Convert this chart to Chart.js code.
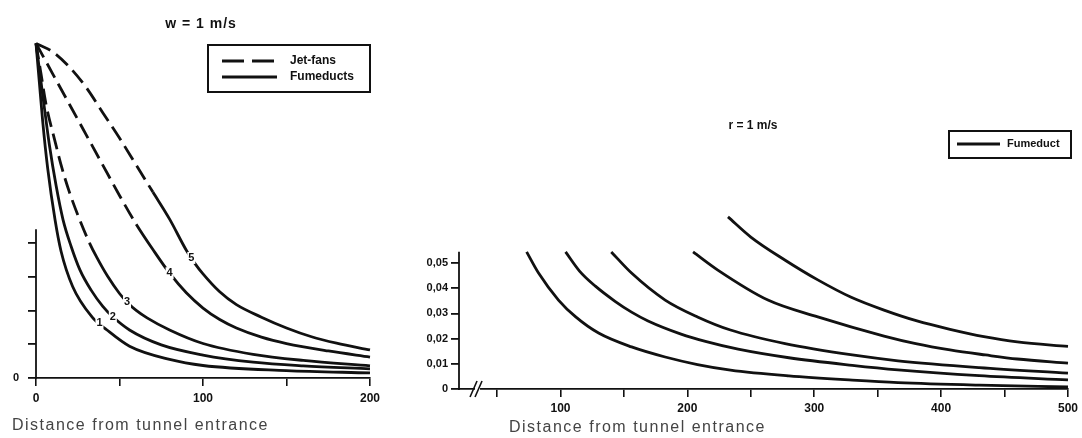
<!DOCTYPE html>
<html><head><meta charset="utf-8">
<script src="https://cdn.jsdelivr.net/npm/chart.js@4"></script>
<style>
html,body{margin:0;padding:0;background:#fff;width:1082px;height:438px;overflow:hidden;position:relative;}
#c1{position:absolute;left:0;top:0;}
#c2{position:absolute;left:400px;top:0;}
</style></head><body>
<canvas id="c1" width="400" height="438"></canvas>
<canvas id="c2" width="682" height="438"></canvas>
<script>
// ---------- data ----------
const leftTitle = 'w = 1 m/s';
const rightTitle = 'r = 1 m/s';
const axisTitle = 'Distance from tunnel entrance';
const leftLegendLabels = ['Jet-fans', 'Fumeducts'];
const rightLegendLabels = ['Fumeduct'];

const leftXTicks = [0, 50, 100, 150, 200];
const leftXLabels = [0, 100, 200];
const leftYTicks = [0, 1, 2, 3, 4];
const leftYLabels = [0];

const rightXTicks = [50, 100, 150, 200, 250, 300, 350, 400, 450, 500];
const rightXLabels = [100, 200, 300, 400, 500];
const rightYTicks = [0, 0.01, 0.02, 0.03, 0.04, 0.05];

// left panel curves [distance, value]
const curveA = [[0,9.9],[2,8.75],[4,7.6],[7,6.2],[11.4,4.68],[15,3.75],[22,2.7],[33.5,1.81],[42.5,1.42],[56,0.94],[80,0.55],[100,0.37],[150,0.22],[200,0.15]];
const curveB = [[0,9.9],[2.5,8.95],[5,8.0],[8,6.9],[12,5.7],[16.2,4.68],[21,3.9],[26.3,3.2],[33,2.6],[40,2.12],[46,1.81],[56,1.42],[75,0.98],[100,0.68],[130,0.47],[160,0.36],[200,0.27]];
const curveC = [[0,9.9],[3,9.0],[6,8.1],[11.4,7.0],[15.6,6.2],[20,5.5],[26,4.7],[32,4.0],[36.5,3.56],[43,3.0],[50,2.5],[55,2.22],[60,2.0],[66.5,1.78],[80,1.42],[100,1.02],[130,0.7],[160,0.52],[200,0.36]];
const curveD = [[0,9.9],[10,9.0],[20,8.1],[30,7.2],[40,6.3],[50,5.4],[60,4.55],[70,3.8],[80,3.1],[90,2.52],[100,2.07],[110,1.73],[120,1.48],[135,1.21],[150,1.02],[175,0.8],[200,0.62]];
const curveE = [[0,9.9],[10,9.65],[20,9.2],[30,8.6],[40,7.85],[50,7.1],[60,6.3],[70,5.5],[80,4.7],[90,3.78],[95,3.4],[100,3.08],[110,2.55],[120,2.17],[135,1.8],[150,1.48],[165,1.22],[180,1.03],[200,0.83]];
const leftCurveNames = ['1', '2', '3', '4', '5'];

// right panel curves [distance, value]
const curveR1 = [[73.3,0.0544],[82.7,0.046],[98.4,0.0353],[112,0.0286],[130,0.0222],[156,0.0167],[182.5,0.0127],[208,0.0097],[234,0.0075],[280,0.0052],[330,0.0035],[366,0.0025],[430,0.0015],[500,0.0008]];
const curveR2 = [[104,0.0544],[115,0.0468],[127.5,0.0408],[143,0.0348],[156,0.0305],[169,0.027],[195,0.0218],[215,0.0188],[240,0.0158],[280,0.0124],[330,0.0094],[366,0.0076],[430,0.0053],[500,0.0036]];
const curveR3 = [[140,0.0544],[156,0.046],[182.5,0.0353],[208,0.0286],[234,0.0234],[277,0.018],[330,0.0135],[366,0.0112],[430,0.0085],[500,0.0063]];
const curveR4 = [[204.5,0.0544],[224,0.0472],[263.5,0.0353],[302.8,0.0286],[355,0.021],[380,0.018],[407,0.0155],[435,0.0135],[460,0.0119],[500,0.0103]];
const curveR5 = [[232,0.0683],[250,0.0603],[276.8,0.0512],[302.8,0.0433],[328.7,0.0365],[355,0.0313],[381,0.027],[407,0.0237],[433.7,0.0208],[460,0.0187],[500,0.0169]];

// ---------- helpers ----------
Chart.defaults.font.family = '"Liberation Sans", Arial, sans-serif';
Chart.defaults.color = '#111';
const toXY = arr => arr.map(([x, y]) => ({x, y}));
const DASH = [16, 7];

function interp(arr, x) {
  for (let i = 1; i < arr.length; i++) {
    if (x <= arr[i][0]) {
      const [x0, y0] = arr[i-1], [x1, y1] = arr[i];
      return y0 + (y1 - y0) * (x - x0) / (x1 - x0);
    }
  }
  return arr[arr.length-1][1];
}

function lineDs(arr, dashAbove) {
  const ds = {
    data: toXY(arr), borderColor: '#111', borderWidth: 2.8, pointRadius: 0,
    cubicInterpolationMode: 'monotone', clip: 5, fill: false
  };
  if (dashAbove !== undefined) {
    ds.segment = { borderDash: ctx => (ctx.p1.parsed.y >= dashAbove ? DASH : undefined) };
  }
  return ds;
}

function baseScales(o) {
  return {
    x: {
      type: 'linear', min: o.xmin, max: o.xmax,
      afterBuildTicks: s => { s.ticks = o.xTicks.map(v => ({value: v})); },
      afterFit: s => { s.height = o.xh; },
      ticks: { autoSkip: false, maxRotation: 0, padding: o.xpad,
        font: { size: 12, weight: 'bold' }, color: '#111',
        callback: v => o.xLabels.includes(v) ? String(v) : '' },
      grid: { drawOnChartArea: false, drawTicks: true, tickLength: 8, color: '#111', lineWidth: 1.6 },
      border: { display: true, color: '#111', width: 1.8 }
    },
    y: {
      type: 'linear', min: 0, max: o.ymax,
      afterBuildTicks: s => { s.ticks = o.yTicks.map(v => ({value: v})); },
      afterFit: s => { s.width = o.yw; },
      ticks: { autoSkip: false, padding: o.ypad, font: { size: 11, weight: 'bold' }, color: '#111',
        callback: o.yCb },
      grid: { drawOnChartArea: false, drawTicks: true, tickLength: 8, color: '#111', lineWidth: 1.8 },
      border: { display: false }
    }
  };
}

function drawAxisTitle(c, x, y) {
  c.font = '16px "Liberation Sans", Arial, sans-serif';
  c.fillStyle = '#444';
  c.textAlign = 'left'; c.textBaseline = 'middle';
  if ('letterSpacing' in c) c.letterSpacing = '1.5px';
  c.fillText(axisTitle, x, y);
  if ('letterSpacing' in c) c.letterSpacing = '0px';
}

// ---------- left chart ----------
const leftDecor = {
  id: 'leftDecor',
  afterDraw(chart) {
    const c = chart.ctx, xs = chart.scales.x, ys = chart.scales.y;
    c.save();
    c.strokeStyle = '#111'; c.lineWidth = 1.8;
    c.beginPath(); c.moveTo(xs.left, ys.getPixelForValue(0) + 1); c.lineTo(xs.left, ys.getPixelForValue(4.4)); c.stroke();
    // curve labels
    const curves = [curveA, curveB, curveC, curveD, curveE];
    const at = [38, 46, 54.5, 80, 93];
    c.font = 'bold 11px "Liberation Sans", Arial, sans-serif';
    c.textAlign = 'center'; c.textBaseline = 'middle';
    curves.forEach((cv, i) => {
      const px = xs.getPixelForValue(at[i]), py = ys.getPixelForValue(interp(cv, at[i]));
      c.fillStyle = '#fff'; c.fillRect(px - 4, py - 6, 8, 12);
      c.fillStyle = '#111'; c.fillText(leftCurveNames[i], px, py);
    });
    // title
    c.font = 'bold 14px "Liberation Sans", Arial, sans-serif';
    if ('letterSpacing' in c) c.letterSpacing = '1px';
    c.fillText(leftTitle, 201, 24);
    if ('letterSpacing' in c) c.letterSpacing = '0px';
    // legend
    c.lineWidth = 2; c.strokeRect(208, 45, 162, 47);
    c.lineWidth = 3;
    c.setLineDash([22, 8]);
    c.beginPath(); c.moveTo(222, 61); c.lineTo(278, 61); c.stroke();
    c.setLineDash([]);
    c.beginPath(); c.moveTo(222, 77); c.lineTo(277, 77); c.stroke();
    c.font = 'bold 12px "Liberation Sans", Arial, sans-serif';
    c.textAlign = 'left';
    c.fillText(leftLegendLabels[0], 290, 61);
    c.fillText(leftLegendLabels[1], 290, 77);
    drawAxisTitle(c, 12, 426);
    c.restore();
  }
};

new Chart(document.getElementById('c1'), {
  type: 'line',
  data: { datasets: [
    lineDs(curveA), lineDs(curveB),
    lineDs(curveC, 3.6), lineDs(curveD, 4.2), lineDs(curveE, 4.8)
  ]},
  options: {
    responsive: false, animation: false,
    layout: { padding: { left: 0, right: 30, top: 40, bottom: 0 } },
    plugins: { legend: { display: false }, tooltip: { enabled: false } },
    scales: baseScales({ xmin: 0, xmax: 200, xTicks: leftXTicks, xLabels: leftXLabels, xh: 60, xpad: 5,
      ymax: 10, yTicks: leftYTicks, yw: 36, ypad: 9,
      yCb: v => leftYLabels.includes(v) ? String(v) : '' })
  },
  plugins: [leftDecor]
});

// ---------- right chart ----------
const rightDecor = {
  id: 'rightDecor',
  afterDraw(chart) {
    const c = chart.ctx, xs = chart.scales.x, ys = chart.scales.y;
    c.save();
    c.strokeStyle = '#111'; c.fillStyle = '#111'; c.lineWidth = 1.8;
    c.beginPath(); c.moveTo(xs.left, ys.getPixelForValue(0) + 1); c.lineTo(xs.left, ys.getPixelForValue(0.0545)); c.stroke();
    // axis break mark
    const bx = xs.getPixelForValue(35), by = ys.getPixelForValue(0);
    c.fillStyle = '#fff'; c.fillRect(bx - 3, by - 2, 5, 4);
    c.fillStyle = '#111'; c.lineWidth = 1.6;
    c.beginPath();
    c.moveTo(bx - 8, by + 8); c.lineTo(bx - 1, by - 8);
    c.moveTo(bx - 3, by + 8); c.lineTo(bx + 4, by - 8);
    c.stroke();
    // title
    c.font = 'bold 12px "Liberation Sans", Arial, sans-serif';
    c.textAlign = 'center'; c.textBaseline = 'middle';
    c.fillText(rightTitle, 353, 126);
    // legend
    c.lineWidth = 2; c.strokeRect(549, 131, 122, 27);
    c.lineWidth = 3;
    c.beginPath(); c.moveTo(557, 144); c.lineTo(600, 144); c.stroke();
    c.font = 'bold 11px "Liberation Sans", Arial, sans-serif';
    c.textAlign = 'left';
    c.fillText(rightLegendLabels[0], 607, 144);
    drawAxisTitle(c, 109, 428);
    c.restore();
  }
};

new Chart(document.getElementById('c2'), {
  type: 'line',
  data: { datasets: [
    lineDs(curveR1), lineDs(curveR2), lineDs(curveR3), lineDs(curveR4), lineDs(curveR5)
  ]},
  options: {
    responsive: false, animation: false,
    layout: { padding: { left: 0, right: 11, top: 200, bottom: 0 } },
    plugins: { legend: { display: false }, tooltip: { enabled: false } },
    scales: baseScales({ xmin: 20, xmax: 500, xTicks: rightXTicks, xLabels: rightXLabels, xh: 49, xpad: 4,
      ymax: 0.075, yTicks: rightYTicks, yw: 59, ypad: 3,
      yCb: v => v === 0 ? '0' : v.toFixed(2).replace('.', ',') })
  },
  plugins: [rightDecor]
});
</script>
</body></html>
